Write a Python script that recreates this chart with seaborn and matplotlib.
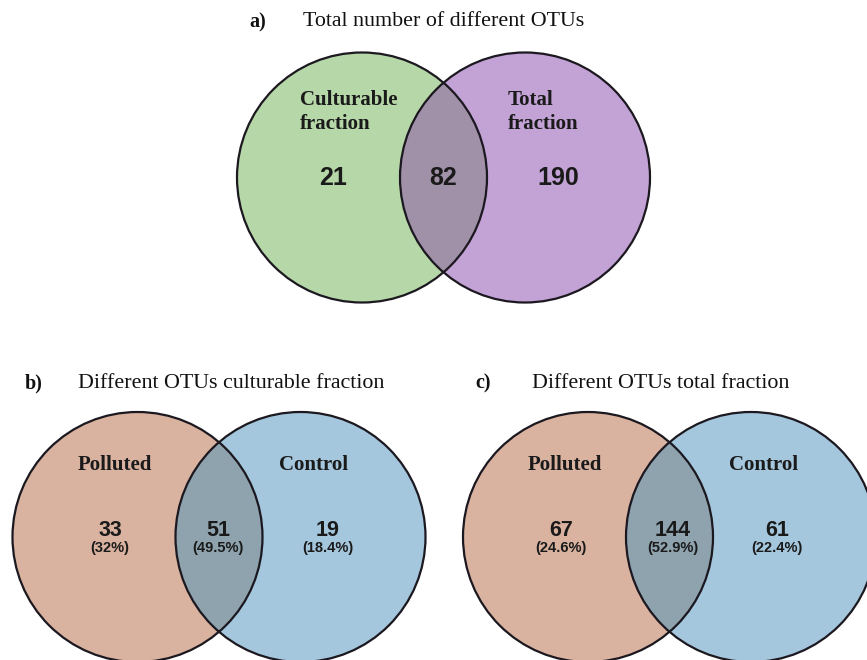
import matplotlib
matplotlib.use("Agg")
import matplotlib.pyplot as plt
from matplotlib.patches import Circle
import seaborn as sns

sns.set_theme(style="white")
plt.rcParams["font.family"] = ["Liberation Serif", "DejaVu Serif"]

# Panel a: culturable vs total fraction
a_title = "Total number of different OTUs"
a_sets = ["Culturable\nfraction", "Total\nfraction"]
a_counts = [21, 82, 190]  # only-left, shared, only-right

# Panel b: culturable fraction, polluted vs control
b_title = "Different OTUs culturable fraction"
b_sets = ["Polluted", "Control"]
b_counts = [33, 51, 19]
b_pcts = [32, 49.5, 18.4]

# Panel c: total fraction, polluted vs control
c_title = "Different OTUs total fraction"
c_sets = ["Polluted", "Control"]
c_counts = [67, 144, 61]
c_pcts = [24.6, 52.9, 22.4]

W, H = 867, 660
fig = plt.figure(figsize=(W / 100, H / 100), dpi=100)
ax = fig.add_axes([0, 0, 1, 1])
ax.set_xlim(0, W)
ax.set_ylim(H, 0)
ax.set_aspect("equal")
ax.axis("off")

R = 125
SEP = 163
SANS = ["Liberation Sans", "DejaVu Sans"]


def venn(cx, cy, colors, overlap_color):
    left = Circle((cx - SEP / 2, cy), R, facecolor=colors[0], edgecolor="none", zorder=1)
    right = Circle((cx + SEP / 2, cy), R, facecolor=colors[1], edgecolor="none", zorder=1)
    ax.add_patch(left)
    ax.add_patch(right)
    mid = Circle((cx + SEP / 2, cy), R, facecolor=overlap_color, edgecolor="none", zorder=2)
    ax.add_patch(mid)
    mid.set_clip_path(left)
    for x in (cx - SEP / 2, cx + SEP / 2):
        ax.add_patch(Circle((x, cy), R, facecolor="none", edgecolor="#1c1820",
                            linewidth=1.6, zorder=3))


def panel_title(x_tag, x_text, y, tag, text):
    ax.text(x_tag, y, tag, fontsize=14.5, fontweight="bold", ha="left", va="center", color="#111111")
    ax.text(x_text, y, text, fontsize=15.8, ha="left", va="center", color="#111111")


# ---- a) ----
panel_title(249, 303, 22, "a)", a_title)
ca = (443.5, 177.5)
venn(ca[0], ca[1], ["#b6d7a8", "#c3a2d6"], "#a090a8")
ax.text(300, 112, a_sets[0], fontsize=15, fontweight="bold", ha="left", va="center",
        linespacing=1.3, color="#1a1a1a", zorder=4)
ax.text(508, 112, a_sets[1], fontsize=15, fontweight="bold", ha="left", va="center",
        linespacing=1.3, color="#1a1a1a", zorder=4)
for x, n in zip([333, 443, 558], a_counts):
    ax.text(x, 178, f"{n}", fontsize=18, fontweight="bold", ha="center", va="center",
            family=SANS, color="#1a1a1a", zorder=4)


# ---- b) and c) ----
def lower_panel(cx, tag_x, text_x, tag, title, sets, counts, pcts, label_x, num_x):
    panel_title(tag_x, text_x, 383, tag, title)
    venn(cx, 537, ["#d9b2a0", "#a5c7dd"], "#8ea3ae")
    for x, s in zip(label_x, sets):
        ax.text(x, 465, s, fontsize=15, fontweight="bold", ha="center", va="center",
                color="#1a1a1a", zorder=4)
    for x, n, p in zip(num_x, counts, pcts):
        ax.text(x, 530, f"{n}", fontsize=15.5, fontweight="bold", ha="center", va="center",
                family=SANS, color="#1a1a1a", zorder=4)
        ax.text(x, 548, f"({p:g}%)", fontsize=10.5, fontweight="bold", ha="center", va="center",
                family=SANS, color="#1a1a1a", zorder=4)


lower_panel(219, 25, 78, "b)", b_title, b_sets, b_counts, b_pcts,
            [115, 314], [110, 218, 328])
lower_panel(669.5, 475, 532, "c)", c_title, c_sets, c_counts, c_pcts,
            [565, 764], [561, 673, 777])

fig.savefig("out.png", dpi=100, facecolor="white")
